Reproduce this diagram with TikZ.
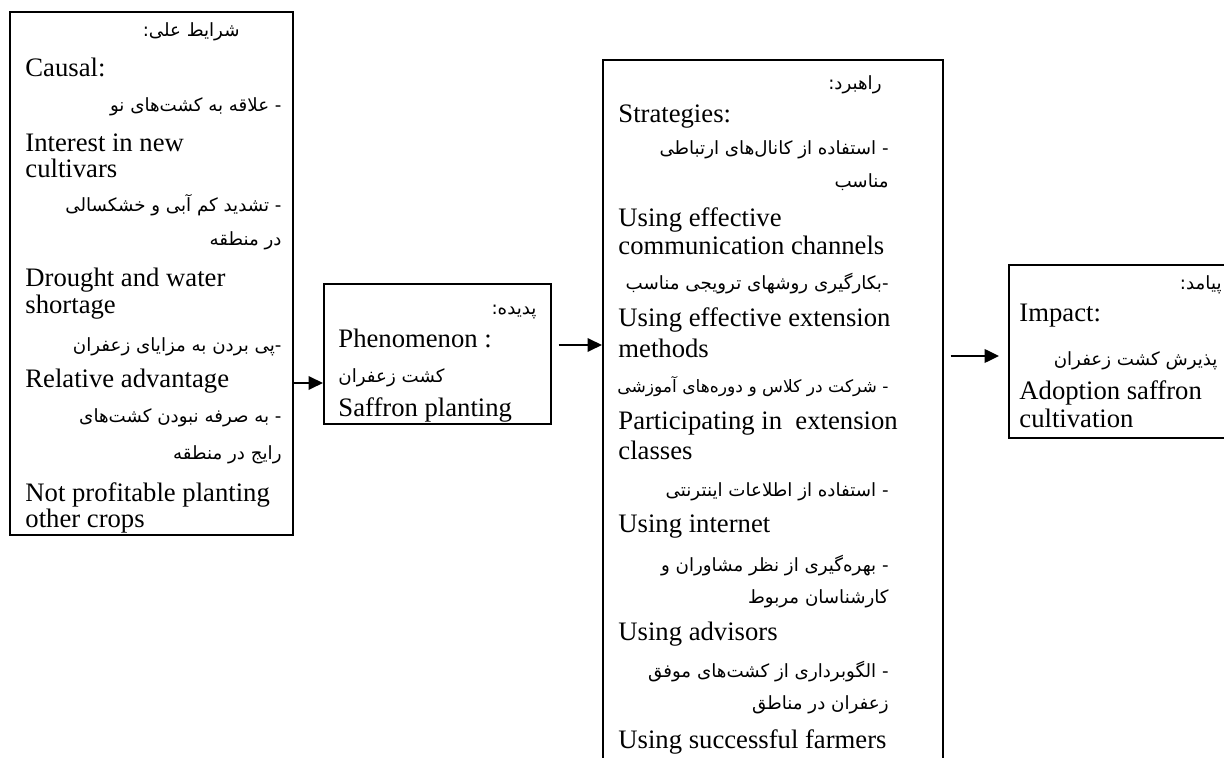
\documentclass[tikz,border=0pt]{standalone}
\usepackage{fontspec}
\setmainfont{Liberation Serif}
\newfontfamily\farsi[Script=Arabic]{DejaVu Sans}
\TeXXeTstate=1
\usetikzlibrary{fit,arrows.meta}
\begin{document}
\begin{tikzpicture}[x=0.45pt,y=-0.45pt,>={Triangle[length=6.5pt,width=6pt]},
	box/.style={draw,line width=0.9pt,inner sep=0pt},
	en/.style={anchor=base west,inner sep=0pt,font=\fontsize{12}{14}\selectfont},
	fa/.style={anchor=base east,inner sep=0pt,font=\farsi\fontsize{8.2}{10}\selectfont},
	arr/.style={->,line width=1.1pt}]
	\path[use as bounding box,clip](0,0)rectangle(1224,758);
	% boxes
	\node[box,fit={(10,12)(293,535)}](causal){};
	\node[box,fit={(324,284)(551,424)}](phen){};
	\node[box,fit={(603,60)(943,820)}](strat){};
	\node[box,fit={(1009,265)(1260,438)}](impact){};
	% causal conditions
	\node[fa](c1)at(240,37){\beginR شرایط علی:\endR};
	\node[en](c2)at(25,77){Causal:};
	\node[fa](c3)at(282,112){\beginR - علاقه به کشت‌های نو\endR};
	\node[en](c4)at(25,152){Interest in new};
	\node[en](c5)at(25,178){cultivars};
	\node[fa](c6)at(282,212){\beginR - تشدید کم آبی و خشکسالی\endR};
	\node[fa](c7)at(282,246){\beginR در منطقه\endR};
	\node[en](c8)at(25,287){Drought and water};
	\node[en](c9)at(25,314){shortage};
	\node[fa](c10)at(282,352){\beginR -\kern0pt پی بردن به مزایای زعفران\endR};
	\node[en](c11)at(25,388){Relative advantage};
	\node[fa](c12)at(282,423){\beginR - به صرفه نبودن کشت‌های\endR};
	\node[fa](c13)at(282,460){\beginR رایج در منطقه\endR};
	\node[en](c14)at(25,502){Not profitable planting};
	\node[en](c15)at(25,528){other crops};
	% phenomenon
	\node[fa](p1)at(537,315){\beginR پدیده:\endR};
	\node[en](p2)at(338,348){Phenomenon :};
	\node[fa,anchor=base west](p3)at(338,383){\beginR کشت زعفران\endR};
	\node[en](p4)at(338,417){Saffron planting};
	% strategies
	\node[fa](s1)at(882,90){\beginR راهبرد:\endR};
	\node[en](s2)at(618,123){Strategies:};
	\node[fa](s3)at(889,155){\beginR - استفاده از کانال‌های ارتباطی\endR};
	\node[fa](s4)at(889,188){\beginR مناسب\endR};
	\node[en](s5)at(618,227){Using effective};
	\node[en](s6)at(618,255){communication channels};
	\node[fa](s7)at(889,290){\beginR -\kern0pt بکارگیری روشهای ترویجی مناسب\endR};
	\node[en](s8)at(618,327){Using effective extension};
	\node[en](s9)at(618,358){methods};
	\node[fa,font=\farsi\fontsize{7.7}{10}\selectfont](s10)at(889,393){\beginR - شرکت در کلاس و دوره‌های آموزشی\endR};
	\node[en](s11)at(618,430){Participating in\ \ extension};
	\node[en](s12)at(618,460){classes};
	\node[fa](s13)at(889,497){\beginR - استفاده از اطلاعات اینترنتی\endR};
	\node[en](s14)at(618,533){Using internet};
	\node[fa](s15)at(889,572){\beginR - بهره‌گیری از نظر مشاوران و\endR};
	\node[fa](s16)at(889,604){\beginR کارشناسان مربوط\endR};
	\node[en](s17)at(618,640){Using advisors};
	\node[fa](s18)at(889,677){\beginR - الگوبرداری از کشت‌های موفق\endR};
	\node[fa](s19)at(889,710){\beginR زعفران در مناطق\endR};
	\node[en](s20)at(618,748){Using successful farmers};
	% impact
	\node[fa](i1)at(1222,290){\beginR پیامد:\endR};
	\node[en](i2)at(1019,322){Impact:};
	\node[fa](i3)at(1218,366){\beginR پذیرش کشت زعفران\endR};
	\node[en](i4)at(1019,400){Adoption saffron};
	\node[en](i5)at(1019,428){cultivation};
	% arrows
	\coordinate(y1)at(0,383);
	\coordinate(y2)at(0,345);
	\coordinate(y3)at(0,356);
	\draw[arr](causal.east|-y1)--(phen.west|-y1);
	\draw[arr,shorten <=3pt](phen.east|-y2)--(strat.west|-y2);
	\draw[arr,shorten <=3pt,shorten >=4pt](strat.east|-y3)--(impact.west|-y3);
\end{tikzpicture}
\end{document}
